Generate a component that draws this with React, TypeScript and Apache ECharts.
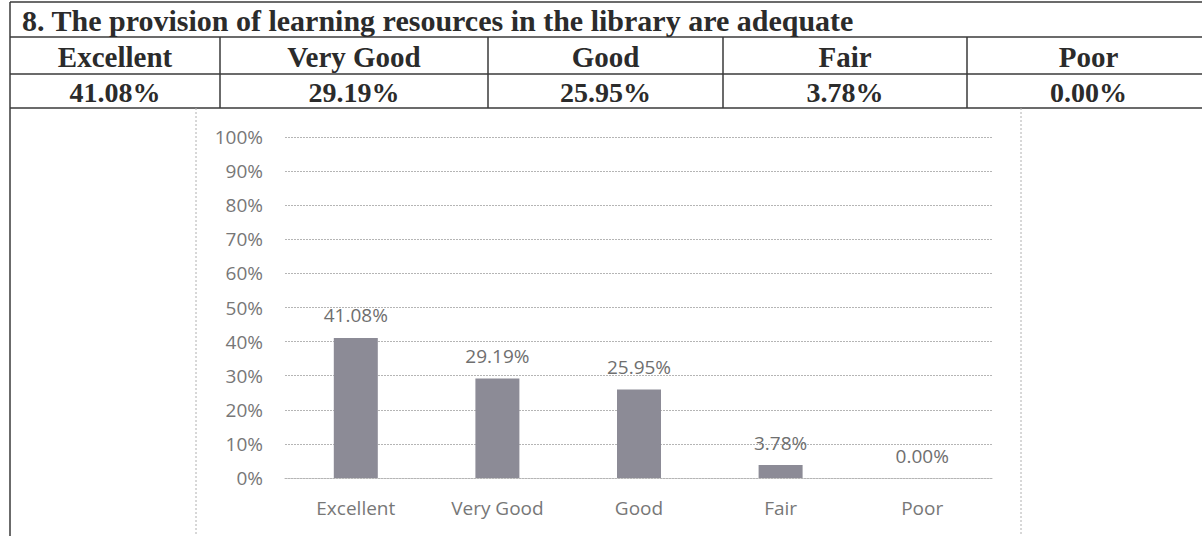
import React, { useEffect, useRef } from "react";
import * as echarts from "echarts";

const titleText = "8. The provision of learning resources in the library are adequate";
const categories = ["Excellent", "Very Good", "Good", "Fair", "Poor"];
const values = [41.08, 29.19, 25.95, 3.78, 0.0];
const tableValues = ["41.08%", "29.19%", "25.95%", "3.78%", "0.00%"];
const yMax = 100;
const yStep = 10;

export default function App() {
  const ref = useRef<HTMLDivElement>(null);
  useEffect(() => {
    if (!ref.current) return;
    const chart = echarts.init(ref.current, null, { renderer: "svg" });
    const colEdges = [10, 220, 488, 723, 967, 1210];
    const rowLines = [2, 37, 74, 108];
    const lineStyle = { stroke: "#3a3a3a", lineWidth: 1.5 };
    const serifTitle = "bold 30px 'Liberation Serif', 'Times New Roman', serif";
    const serifHead = "bold 29px 'Liberation Serif', 'Times New Roman', serif";
    const serifVal = "bold 28px 'Liberation Serif', 'Times New Roman', serif";
    const textColor = "#2b2b2b";
    const graphic: any[] = [];
    rowLines.forEach((y) =>
      graphic.push({ type: "line", shape: { x1: 10, y1: y, x2: 1210, y2: y }, style: lineStyle, silent: true })
    );
    graphic.push({ type: "line", shape: { x1: 10, y1: 2, x2: 10, y2: 536 }, style: lineStyle, silent: true });
    colEdges.slice(1, 5).forEach((x) =>
      graphic.push({ type: "line", shape: { x1: x, y1: 37, x2: x, y2: 108 }, style: lineStyle, silent: true })
    );
    graphic.push({
      type: "text",
      style: { text: titleText, x: 22, y: 20, font: serifTitle, fill: textColor, verticalAlign: "middle", textAlign: "left" },
    });
    categories.forEach((c, i) => {
      const cx = (colEdges[i] + colEdges[i + 1]) / 2;
      graphic.push({
        type: "text",
        style: { text: c, x: cx, y: 57, font: serifHead, fill: textColor, verticalAlign: "middle", textAlign: "center" },
      });
      graphic.push({
        type: "text",
        style: { text: tableValues[i], x: cx, y: 92, font: serifVal, fill: textColor, verticalAlign: "middle", textAlign: "center" },
      });
    });
    // chart frame (dotted)
    const frameStyle = { stroke: "#b0b0b0", lineWidth: 1, lineDash: [2, 2] };
    graphic.push({ type: "line", shape: { x1: 196, y1: 108, x2: 196, y2: 536 }, style: frameStyle, silent: true });
    graphic.push({ type: "line", shape: { x1: 1021, y1: 108, x2: 1021, y2: 536 }, style: frameStyle, silent: true });

    const font = "'Open Sans', sans-serif";
    const gridLine = { color: "#b5b5b5", width: 1, type: [2, 1] as any };
    chart.setOption({
      animation: false,
      backgroundColor: "#ffffff",
      graphic,
      grid: { left: 285, right: 209, top: 137, bottom: 58 },
      xAxis: {
        type: "category",
        data: categories,
        axisTick: { show: false },
        axisLine: { show: true, lineStyle: gridLine },
        axisLabel: { fontSize: 19, color: "#777777", fontFamily: font, margin: 20 },
      },
      yAxis: {
        type: "value",
        min: 0,
        max: yMax,
        interval: yStep,
        axisLine: { show: false },
        axisTick: { show: false },
        axisLabel: { formatter: "{value}%", fontSize: 19, color: "#777777", fontFamily: font, margin: 22 },
        splitLine: { lineStyle: gridLine },
      },
      series: [
        {
          type: "bar",
          data: values,
          barWidth: 44,
          itemStyle: { color: "#8c8b96" },
          label: {
            show: true,
            position: "top",
            distance: 13,
            formatter: (p: any) => p.value.toFixed(2) + "%",
            fontSize: 19,
            color: "#6f6f6f",
            fontFamily: font,
          },
        },
      ],
    });
    return () => chart.dispose();
  }, []);
  return (
    <div
      ref={ref}
      style={{ position: "fixed", left: 0, top: 0, width: 1202, height: 536, background: "#fff" }}
    />
  );
}
